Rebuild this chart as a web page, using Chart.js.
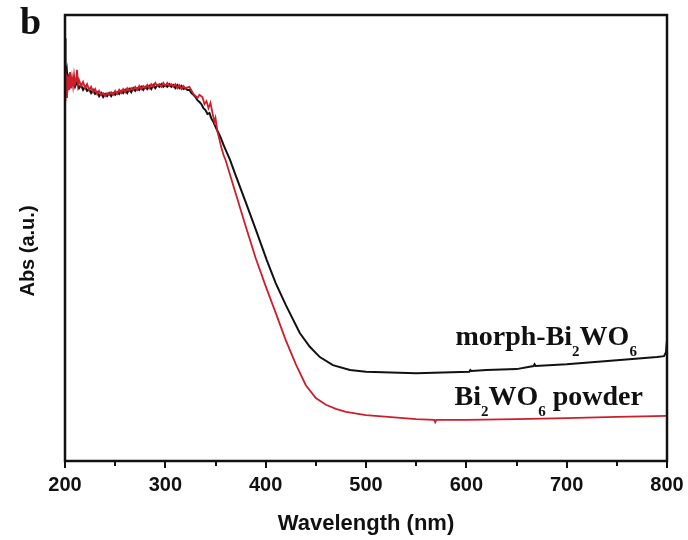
<!DOCTYPE html>
<html lang="en">
<head>
    <meta charset="UTF-8">
    <title>UV-vis absorption spectra</title>
    <script src="https://cdn.jsdelivr.net/npm/chart.js"></script>
    <style>
        html, body { margin: 0; padding: 0; background: #fff; }
        #wrap { width: 688px; height: 540px; }
    </style>
</head>
<body>
    <div id="wrap"><canvas id="spectra"></canvas></div>

    <script>
        // Wavelength (nm) and absorbance (a.u.) for each sample
        const morphWavelength = [200, 200.5, 201, 202, 203, 204,
            206, 208, 210, 212, 214, 216, 218, 220, 222, 224, 226, 228, 230, 232, 234, 236, 238, 240, 242, 244, 246, 248, 250,
            252, 254, 256, 258, 260, 262, 264, 266, 268, 270, 272, 274, 276, 278, 280, 282, 284, 286, 288, 290, 292, 294, 296, 298, 300,
            302, 304, 306, 308, 310, 312, 314, 316, 318, 320, 322, 324, 326, 328, 330, 332, 334, 336, 338, 340, 342, 344, 346, 348, 350,
            352, 355, 358, 361, 364.5, 370, 380, 390, 401, 410, 420, 434, 444, 454, 467, 484, 500,
            550, 603, 604, 605, 620, 650, 667, 668, 669, 700, 750, 790, 797, 799, 800];
        const morphAbs = [0.948, 0.899, 0.854, 0.872, 0.843, 0.859,
            0.841, 0.854, 0.839, 0.850, 0.836, 0.843, 0.832, 0.839, 0.830, 0.834, 0.825, 0.832, 0.823, 0.827, 0.818, 0.825, 0.816, 0.823, 0.818, 0.825, 0.818, 0.825, 0.821,
            0.827, 0.823, 0.830, 0.825, 0.832, 0.825, 0.834, 0.827, 0.836, 0.830, 0.836, 0.832, 0.839, 0.832, 0.839, 0.834, 0.841, 0.834, 0.843, 0.836, 0.843, 0.839, 0.845, 0.839, 0.843,
            0.839, 0.845, 0.839, 0.843, 0.836, 0.843, 0.836, 0.841, 0.834, 0.836, 0.832, 0.832, 0.825, 0.821, 0.816, 0.809, 0.805, 0.800, 0.791, 0.787, 0.778, 0.780, 0.767, 0.760, 0.749,
            0.740, 0.726, 0.709, 0.693, 0.675, 0.641, 0.581, 0.520, 0.451, 0.399, 0.350, 0.287, 0.256, 0.233, 0.215, 0.204, 0.200,
            0.197, 0.200, 0.204, 0.202, 0.204, 0.206, 0.213, 0.217, 0.213, 0.217, 0.226, 0.233, 0.235, 0.244, 0.271];

        const powderWavelength = [200, 200.5, 201, 201.5, 202, 203, 204, 205, 206, 207, 208, 209, 210, 211, 212, 213, 214,
            216, 218, 220, 222, 224, 226, 228, 230, 232, 234, 236, 238, 240, 242, 244, 246, 248, 250, 252, 254, 256, 258, 260,
            262, 264, 266, 268, 270, 272, 274, 276, 278, 280, 282, 284, 286, 288, 290, 292, 294, 296, 298, 300,
            302, 304, 306, 308, 310, 312, 314, 316, 318, 320,
            324, 328, 332, 334, 337, 339, 341, 343, 345, 347, 349, 350, 352, 354, 356, 358, 360,
            370, 380, 390, 400, 410, 420, 430, 440, 450, 460, 470, 480, 500,
            550, 568, 569, 570, 600, 650, 700, 750, 800];
        const powderAbs = [0.809, 0.877, 0.821, 0.868, 0.814, 0.863, 0.832, 0.872, 0.836, 0.859, 0.841, 0.865, 0.845, 0.854, 0.877, 0.843, 0.854,
            0.841, 0.850, 0.836, 0.845, 0.832, 0.839, 0.827, 0.834, 0.823, 0.830, 0.821, 0.825, 0.818, 0.825, 0.821, 0.827, 0.821, 0.830, 0.823, 0.832, 0.825, 0.834, 0.827,
            0.836, 0.830, 0.836, 0.832, 0.839, 0.832, 0.841, 0.834, 0.841, 0.836, 0.843, 0.836, 0.845, 0.839, 0.848, 0.841, 0.845, 0.839, 0.848, 0.841,
            0.848, 0.841, 0.845, 0.839, 0.845, 0.836, 0.843, 0.834, 0.841, 0.836,
            0.839, 0.823, 0.814, 0.821, 0.816, 0.800, 0.807, 0.791, 0.803, 0.780, 0.760, 0.769, 0.738, 0.720, 0.702, 0.686, 0.675,
            0.601, 0.527, 0.455, 0.392, 0.332, 0.271, 0.217, 0.170, 0.141, 0.126, 0.117, 0.110, 0.103,
            0.094, 0.092, 0.087, 0.092, 0.092, 0.094, 0.096, 0.099, 0.101];

        const xTickValues = [200, 300, 400, 500, 600, 700, 800];

        const toPoints = (xs, ys) => xs.map((x, i) => ({ x: x, y: ys[i] }));

        // frame, outward tick marks, axis label, panel letter and curve labels
        const decorations = {
            id: 'decorations',
            afterDraw(chart) {
                const ctx = chart.ctx;
                const area = chart.chartArea;
                const xs = chart.scales.x;
                const ys = chart.scales.y;
                ctx.save();
                ctx.strokeStyle = '#111';
                ctx.lineWidth = 2.5;
                ctx.strokeRect(area.left, area.top, area.right - area.left, area.bottom - area.top);

                ctx.lineWidth = 2;
                for (let v = 200; v <= 800; v += 50) {
                    const px = Math.round(xs.getPixelForValue(v));
                    const len = v % 100 === 0 ? 7 : 5;
                    ctx.beginPath();
                    ctx.moveTo(px, area.bottom);
                    ctx.lineTo(px, area.bottom + len);
                    ctx.stroke();
                }

                ctx.fillStyle = '#111';

                // y axis title sits a little below the middle of the axis
                ctx.save();
                ctx.translate(28, 251);
                ctx.rotate(-Math.PI / 2);
                ctx.font = 'bold 20px "Liberation Sans", Arial, sans-serif';
                ctx.textAlign = 'center';
                ctx.textBaseline = 'middle';
                ctx.fillText('Abs (a.u.)', 0, 0);
                ctx.restore();

                ctx.font = 'bold 38px "Liberation Serif", serif';
                ctx.textBaseline = 'alphabetic';
                ctx.textAlign = 'left';
                ctx.fillText('b', 20, 34);

                drawFormula(ctx, [['morph-Bi', 0], ['2', 1], ['WO', 0], ['6', 1]],
                    xs.getPixelForValue(770), ys.getPixelForValue(0.260));
                drawFormula(ctx, [['Bi', 0], ['2', 1], ['WO', 0], ['6', 1], [' powder', 0]],
                    xs.getPixelForValue(776), ys.getPixelForValue(0.126));
                ctx.restore();
            }
        };

        // right-aligned text with subscripts
        function drawFormula(ctx, parts, right, baseline) {
            const big = 'bold 28px "Liberation Serif", serif';
            const small = 'bold 15px "Liberation Serif", serif';
            let width = 0;
            parts.forEach(p => { ctx.font = p[1] ? small : big; width += ctx.measureText(p[0]).width; });
            let x = right - width;
            ctx.textAlign = 'left';
            ctx.textBaseline = 'alphabetic';
            parts.forEach(p => {
                ctx.font = p[1] ? small : big;
                ctx.fillText(p[0], x, baseline + (p[1] ? 11 : 0));
                x += ctx.measureText(p[0]).width;
            });
        }

        new Chart(document.getElementById('spectra'), {
            type: 'line',
            data: {
                datasets: [{
                    label: 'Bi2WO6 powder',
                    data: toPoints(powderWavelength, powderAbs),
                    borderColor: '#cc1f2b',
                    borderWidth: 1.8,
                    pointRadius: 0,
                    tension: 0
                }, {
                    label: 'morph-Bi2WO6',
                    data: toPoints(morphWavelength, morphAbs),
                    borderColor: '#111111',
                    borderWidth: 2,
                    pointRadius: 0,
                    tension: 0
                }]
            },
            options: {
                responsive: true,
                maintainAspectRatio: false,
                animation: false,
                layout: { padding: { top: 15, right: 21, bottom: 0, left: 0 } },
                plugins: {
                    legend: { display: false },
                    tooltip: { enabled: false }
                },
                scales: {
                    x: {
                        type: 'linear',
                        min: 200,
                        max: 800,
                        afterBuildTicks: scale => { scale.ticks = xTickValues.map(v => ({ value: v })); },
                        afterFit: scale => {
                            scale.height = 79;
                            scale.paddingLeft = 0;
                            scale.paddingRight = 0;
                        },
                        grid: { display: false, drawTicks: false },
                        border: { display: false },
                        ticks: {
                            color: '#111',
                            padding: 12,
                            maxRotation: 0,
                            font: { family: '"Liberation Sans", Arial, sans-serif', size: 20, weight: 'bold' }
                        },
                        title: {
                            display: true,
                            text: 'Wavelength (nm)',
                            color: '#111',
                            padding: { top: 0, bottom: 3 },
                            font: { family: '"Liberation Sans", Arial, sans-serif', size: 22, weight: 'bold' }
                        }
                    },
                    y: {
                        min: 0,
                        max: 1,
                        afterFit: scale => { scale.width = 65; },
                        grid: { display: false },
                        border: { display: false },
                        ticks: { display: false }
                    }
                }
            },
            plugins: [decorations]
        });
    </script>
</body>
</html>
